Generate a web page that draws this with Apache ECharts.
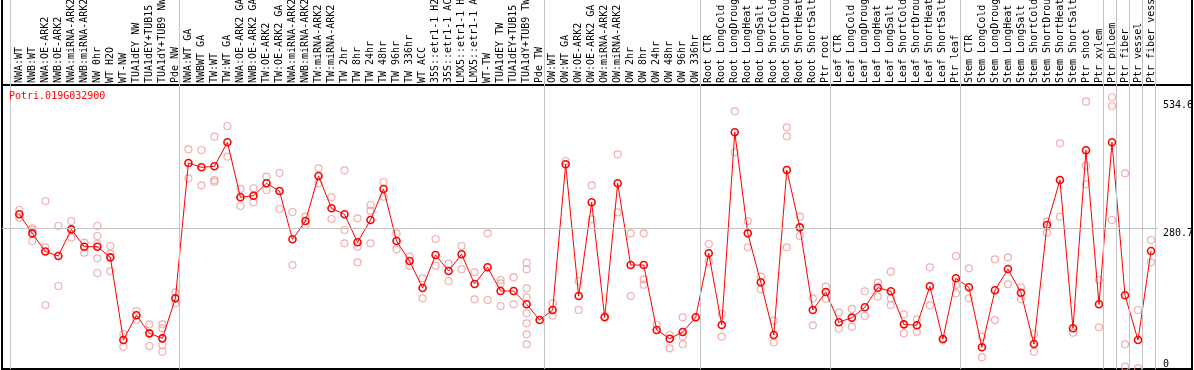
<!DOCTYPE html>
<html><head><meta charset="utf-8">
<script src="https://cdn.jsdelivr.net/npm/echarts@6/dist/echarts.min.js"></script>
<style>html,body{margin:0;padding:0;background:#fff;overflow:hidden}#c{width:1194px;height:370px}</style>
</head><body><div id="c"></div>
<script>
const chartTitle = 'Potri.019G032900';

const categories = [
  'NWA:WT','NWB:WT','NWA:OE-ARK2','NWB:OE-ARK2','NWA:miRNA-ARK2','NWB:miRNA-ARK2','NW 0hr','WT H2O','WT-NW',
  'TUA1dEY NW','TUA1dEY+TUB15 NW','TUA1dY+TUB9 NW','Pde NW',
  'NWA:WT GA','NWBWT GA','TW:WT','TW:WT GA','NWA:OE-ARK2 GA','NWB:OE-ARK2 GA','TW:OE-ARK2','TW:OE-ARK2 GA',
  'NWA:miRNA-ARK2 GA','NWB:miRNA-ARK2 GA','TW:miRNA-ARK2','TW:miRNA-ARK2 GA','TW 2hr','TW 8hr','TW 24hr','TW 48hr',
  'TW 96hr','TW 336hr','WT ACC','35S::etr1-1 H2O','35S::etr1-1 ACC','LMX5::etr1-1 H2O','LMX5::etr1-1 ACC','WT-TW',
  'TUA1dEY TW','TUA1dEY+TUB15 TW','TUA1dY+TUB9 TW','Pde TW',
  'OW:WT','OW:WT GA','OW:OE-ARK2','OW:OE-ARK2 GA','OW:miRNA-ARK2','OW:miRNA-ARK2 GA','OW 2hr','OW 8hr','OW 24hr',
  'OW 48hr','OW 96hr','OW 336hr',
  'Root CTR','Root LongCold','Root LongDrought','Root LongHeat','Root LongSalt','Root ShortCold','Root ShortDrought',
  'Root ShortHeat','Root ShortSalt','Ptr root',
  'Leaf CTR','Leaf LongCold','Leaf LongDrought','Leaf LongHeat','Leaf LongSalt','Leaf ShortCold','Leaf ShortDrought',
  'Leaf ShortHeat','Leaf ShortSalt','Ptr leaf',
  'Stem CTR','Stem LongCold','Stem LongDrought','Stem LongHeat','Stem LongSalt','Stem ShortCold','Stem ShortDrought',
  'Stem ShortHeat','Stem ShortSalt','Ptr shoot','Ptr xylem',
  'Ptr phloem','Ptr fiber','Ptr vessel','Ptr fiber vessel'
];

const means = [
  308, 270, 234, 225, 278, 243.5, 243.5, 222.3, 57.7, 106.9,
  71, 61, 140.7, 410, 401.5, 403.5, 451.3, 341.8, 345, 369.7,
  354.4, 258.2, 294.6, 384.2, 319.9, 308, 252.2, 296.6, 358.4, 254.8,
  215, 161.3, 227, 195.1, 228.4, 169.2, 202.5, 155.3, 155.3, 128.8,
  97.5, 117.5, 407.5, 145.3, 331.9, 102.9, 369.7, 207, 207, 77.6,
  60.3, 73.7, 102.9, 230.3, 87.6, 471.2, 270.1, 172.6, 67.7, 396.2,
  282, 117.5, 153.3, 93, 102.2, 122.8, 161.9, 154.7, 88.9, 87,
  164.6, 59.7, 180.6, 162.6, 43.2, 156.7, 199, 151.9, 49.8, 286.7,
  376.3, 81, 435.4, 128.8, 451.3, 146.7, 57.7, 234.9
];

const replicates = [
  [316.5, 301], [280, 276.7, 254.8], [334.5, 242, 127.4], [284.7, 165.2], [294.6, 261.4],
  [251.5, 231.5], [284.7, 264.8, 248.9, 220.3, 191.1], [244.9, 229, 194.5], [69.7, 44.5], [116, 98],
  [88.9, 45.8], [89, 81, 47.8, 34.5], [152.6, 130.8], [437.4, 379.6], [436, 365.7],
  [462.5, 376.3, 373], [483.8, 422.7], [358.4, 324.5], [359.8, 331.9], [382.9, 356.4],
  [390.2, 318.5], [312.6, 207], [303.2, 286.7], [399.6, 369.7], [341.8, 298.6],
  [395.6, 276.7, 250.2], [300, 243.5, 212.4], [326.5, 315.2, 250.2], [372.3, 343], [270.1, 238.3],
  [223.6, 205.7], [180.6, 140.7], [258.8, 205.7], [209.6, 175.2], [244.9, 198.5],
  [192.5, 138.8], [270.1, 137.4], [177.2, 170.6, 125.4], [182.6, 128.8],
  [211.6, 198.5, 160.6, 142.7, 110.9, 91, 69, 49.2],
  [], [130.8, 106.2], [414.1], [175.2, 117.5], [365.7, 298],
  [106], [427.4, 312], [270.1, 145.3], [270.1, 178.6, 167.8], [87.6],
  [67.7, 41.2], [102.9, 64.3, 49.2], [], [248.9, 213.7], [109.5, 64.3],
  [513, 431.4], [294.6, 242.3], [183.8, 158.7], [96.2, 53.2], [481.2, 463.3, 242.3],
  [303.2, 264.8], [140.7, 87], [163.9, 140], [112.1, 80.2], [119.5, 84.3],
  [154.7, 105.5], [171.9, 144], [193.8, 140.7, 127.4], [108.8, 71], [98.9, 74.3],
  [202.5, 126.8], [57], [225, 167.2, 150.7], [200.5, 140.7], [64.3, 23.2],
  [218.4, 97.5], [222.3, 168.6], [162.6, 138.8], [69.7, 34.5], [293.3, 271.4],
  [449.3, 303.2], [72.3], [532.2, 404.2, 367.7], [177.2, 83], [541, 523.6, 296.6],
  [389.6, 49.2, 4.6], [117.5, 1.4], [256.8, 212.4]
];

const yTickLabels = [280.7, 534.6];
const yZeroLabel = [0];
const refLineValue = 280.7;
const groupBoundaries = [0, 13, 41, 53, 63, 73, 84, 85, 86, 87, 88];

// axis ranges (layout)
const X_MIN = -1.33, X_MAX = 90.15, Y_MAX = 736.6;
const BOUND_SHIFT = -0.6765;
const MONO = 'DejaVu Sans Mono';

const meanData = means.map((v, i) => [i, v]);
const repData = [];
replicates.forEach((arr, i) => arr.forEach(v => repData.push([i, v])));

const markLines = groupBoundaries.map(k => [
  { coord: [k + BOUND_SHIFT, 0] }, { coord: [k + BOUND_SHIFT, Y_MAX] }
]);
markLines.push([{ coord: [X_MIN, refLineValue] }, { coord: [87.54, refLineValue] }]);

const chart = echarts.init(document.getElementById('c'), null, { renderer: 'canvas' });
chart.setOption({
  animation: false,
  backgroundColor: '#fff',
  title: {
    text: chartTitle, left: 9, top: 91, padding: 0,
    textStyle: { color: '#ff0000', fontSize: 10, fontFamily: MONO, fontWeight: 'normal' }
  },
  grid: {
    left: 2, right: 2, top: -1, bottom: 1, outerBoundsMode: 'none',
    show: true, borderColor: '#000', borderWidth: 2, backgroundColor: 'rgba(0,0,0,0)'
  },
  xAxis: {
    type: 'value', min: X_MIN, max: X_MAX, position: 'top', offset: -86,
    axisLine: { show: true, onZero: false, lineStyle: { color: '#000', width: 2 } },
    axisTick: { show: false }, splitLine: { show: false },
    axisLabel: {
      customValues: categories.map((_, i) => i),
      formatter: v => categories[Math.round(v)],
      rotate: -90, margin: 2, align: 'left', verticalAlign: 'middle',
      fontFamily: MONO, fontSize: 10, color: '#000'
    }
  },
  yAxis: [
    {
      type: 'value', min: 0, max: Y_MAX, position: 'right', offset: -29,
      axisLine: { show: false }, axisTick: { show: false }, splitLine: { show: false },
      axisLabel: {
        customValues: yTickLabels, formatter: v => v.toFixed(1),
        margin: 0, align: 'left', verticalAlign: 'top',
        fontFamily: MONO, fontSize: 10, color: '#000'
      }
    },
    {
      type: 'value', min: 0, max: Y_MAX, position: 'right', offset: -29,
      axisLine: { show: false }, axisTick: { show: false }, splitLine: { show: false },
      axisLabel: {
        customValues: yZeroLabel, formatter: v => String(v),
        margin: 0, align: 'left', verticalAlign: 'bottom',
        fontFamily: MONO, fontSize: 10, color: '#000'
      }
    }
  ],
  series: [
    {
      type: 'scatter', data: repData, z: 2,
      symbol: 'circle', symbolSize: 7,
      itemStyle: { color: 'rgba(0,0,0,0)', borderColor: '#ef9a9a', borderWidth: 1.2 },
      silent: true,
      markLine: {
        silent: true, symbol: ['none', 'none'], label: { show: false },
        lineStyle: { color: '#c4c4c4', width: 1, type: 'solid' },
        emphasis: { disabled: true },
        data: markLines
      }
    },
    {
      type: 'line', data: meanData, z: 3,
      symbol: 'circle', symbolSize: 7, showAllSymbol: true,
      lineStyle: { color: '#ff0000', width: 1 },
      itemStyle: { color: 'rgba(255,255,255,0)', borderColor: '#ff0000', borderWidth: 1.6 },
      silent: true
    }
  ]
});
</script>
</body></html>
